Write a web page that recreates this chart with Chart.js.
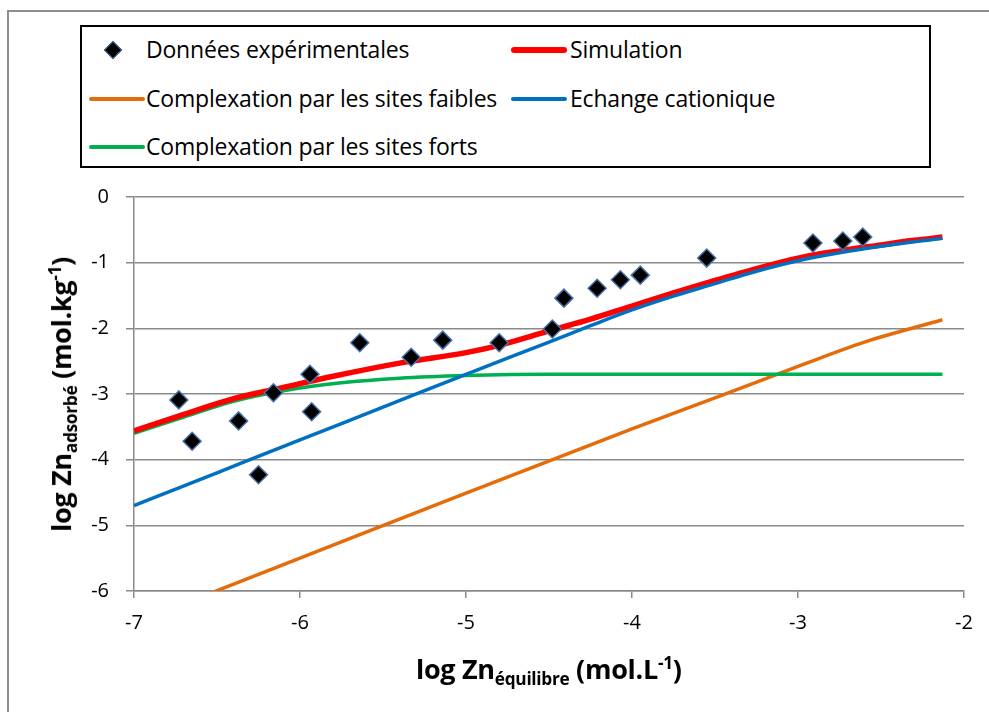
<!DOCTYPE html>
<html><head><meta charset="utf-8">
<script src="https://cdn.jsdelivr.net/npm/chart.js@4"></script>
<style>
html,body{margin:0;padding:0;background:#fff;}
#wrap{position:relative;width:989px;height:712px;overflow:hidden;font-family:"Open Sans",sans-serif;}
#frame{position:absolute;left:7px;top:10px;width:1000px;height:720px;border:2px solid #8e8e8e;box-sizing:border-box;}
canvas{position:absolute;left:0;top:0;}
#legend{position:absolute;left:80px;top:25px;width:851px;height:143px;border:2px solid #000;box-sizing:border-box;background:#fff;z-index:2;}
.lt{position:absolute;font-size:23px;color:#000;line-height:1;white-space:nowrap;transform:translateY(-54%);letter-spacing:-0.2px;}
.sw{position:absolute;border-radius:3px;transform:translateY(-50%);}
.dm{position:absolute;width:11px;height:11px;background:#000;border:1.5px solid #4a72aa;transform:translate(-50%,-50%) rotate(45deg);}
.title{position:absolute;font-weight:bold;font-size:27px;white-space:nowrap;color:#000;line-height:1;z-index:2;letter-spacing:-0.3px;}
.title sub{font-size:64%;vertical-align:-0.35em;}
.title sup{font-size:64%;vertical-align:0.55em;}
</style></head>
<body>
<div id="wrap">
<div id="frame"></div>
<canvas id="c" width="989" height="712"></canvas>
<div id="legend"></div>
<div class="title" id="xt">log Zn<sub>équilibre</sub> (mol.L<sup>-1</sup>)</div>
<div class="title" id="yt">log Zn<sub>adsorbé</sub> (mol.kg<sup>-1</sup>)</div>
</div>
<script>
// ---- data ----
const expX = [-6.73,-6.65,-6.37,-6.25,-6.16,-5.94,-5.93,-5.64,-5.33,-5.14,-4.80,-4.48,-4.41,-4.21,-4.07,-3.95,-3.55,-2.91,-2.73,-2.61];
const expY = [-3.09,-3.72,-3.41,-4.23,-2.98,-2.70,-3.27,-2.22,-2.44,-2.18,-2.22,-2.01,-1.54,-1.39,-1.26,-1.19,-0.93,-0.70,-0.67,-0.61];

const simX = [-7,-6.7,-6.4,-6.1,-5.8,-5.4,-5.0,-4.8,-4.5,-4.25,-4.0,-3.75,-3.5,-3.25,-3.0,-2.75,-2.5,-2.3,-2.13];
const simY = [-3.56,-3.31,-3.07,-2.90,-2.73,-2.53,-2.37,-2.26,-2.04,-1.86,-1.66,-1.46,-1.27,-1.09,-0.93,-0.82,-0.73,-0.66,-0.61];

const faibX = [-7,-6,-5,-4,-3.5,-3,-2.6,-2.13];
const faibY = [-6.49,-5.50,-4.51,-3.53,-3.06,-2.58,-2.21,-1.87];

const echX = [-7,-6.5,-6,-5.5,-5,-4.5,-4.25,-4,-3.75,-3.5,-3.25,-3,-2.75,-2.5,-2.3,-2.13];
const echY = [-4.70,-4.20,-3.70,-3.20,-2.70,-2.21,-1.96,-1.72,-1.51,-1.32,-1.13,-0.97,-0.85,-0.75,-0.68,-0.63];

const fortX = [-7,-6.7,-6.4,-6.1,-5.75,-5.4,-5.0,-4.5,-4.0,-3.0,-2.13];
const fortY = [-3.60,-3.35,-3.11,-2.95,-2.83,-2.76,-2.72,-2.70,-2.70,-2.70,-2.70];

const xTicks = [-7,-6,-5,-4,-3,-2];
const yTicks = [-6,-5,-4,-3,-2,-1,0];

const names = ["Données expérimentales","Simulation","Complexation par les sites faibles","Echange cationique","Complexation par les sites forts"];
const colors = ["#000000","#ff0000","#e46c0a","#0070c0","#00b050"];

// ---- build ----
const pts = (xs, ys) => xs.map((x, i) => ({x, y: ys[i]}));
const line = (lbl, col, xs, ys, w) => ({
  label: lbl, data: pts(xs, ys), showLine: true, borderColor: col, backgroundColor: col,
  borderWidth: w, pointRadius: 0, cubicInterpolationMode: 'monotone', fill: false
});
const datasets = [
  {label: names[0], data: pts(expX, expY), pointStyle: 'rectRot', pointRadius: 9,
   backgroundColor: '#000', borderColor: '#4a72aa', borderWidth: 1.5, showLine: false},
  line(names[3], colors[3], echX, echY, 3.5),
  line(names[1], colors[1], simX, simY, 5.5),
  line(names[4], colors[4], fortX, fortY, 3.5),
  line(names[2], colors[2], faibX, faibY, 3.5)
];
const gridCol = '#8a8a8a';
const tickFont = {family: 'Open Sans', size: 20};
new Chart(document.getElementById('c'), {
  type: 'scatter',
  data: {datasets},
  options: {
    responsive: false, animation: false, events: [],
    layout: {padding: {left: 134 - 60, right: 989 - 964, top: 197, bottom: 712 - 591 - 60}},
    plugins: {legend: {display: false}, tooltip: {enabled: false}},
    scales: {
      x: {type: 'linear', min: xTicks[0], max: xTicks[xTicks.length - 1],
          afterBuildTicks: s => { s.ticks = xTicks.map(v => ({value: v})); },
          ticks: {font: tickFont, color: '#000', padding: 13, maxRotation: 0},
          grid: {drawOnChartArea: false, drawTicks: true, tickLength: 7, color: gridCol, lineWidth: 1.5},
          border: {color: gridCol, width: 1.5},
          afterFit: s => { s.height = 60; }},
      y: {type: 'linear', min: yTicks[0], max: yTicks[yTicks.length - 1],
          afterBuildTicks: s => { s.ticks = yTicks.map(v => ({value: v})); },
          ticks: {font: tickFont, color: '#000', padding: 17},
          grid: {color: gridCol, lineWidth: 1.5, tickLength: 8},
          border: {color: gridCol, width: 1.5},
          afterFit: s => { s.width = 60; }}
    }
  }
});

// ---- legend (HTML) ----
const lg = document.getElementById('legend');
const legendItems = [
  {i: 0, row: 0, col: 0}, {i: 1, row: 0, col: 1},
  {i: 2, row: 1, col: 0}, {i: 3, row: 1, col: 1},
  {i: 4, row: 2, col: 0}
];
const rowY = [23, 72, 120];
const colSw = [7, 429], colTx = [64, 488];
legendItems.forEach(it => {
  const y = rowY[it.row];
  if (it.i === 0) {
    const d = document.createElement('div'); d.className = 'dm';
    d.style.left = '31px'; d.style.top = y + 'px'; lg.appendChild(d);
  } else {
    const s = document.createElement('div'); s.className = 'sw';
    s.style.left = colSw[it.col] + 'px'; s.style.top = y + 'px';
    s.style.width = '56px'; s.style.height = (it.i === 1 ? 6 : 4) + 'px';
    s.style.background = colors[it.i]; lg.appendChild(s);
  }
  const t = document.createElement('div'); t.className = 'lt';
  t.textContent = names[it.i];
  t.style.left = colTx[it.col] + 'px'; t.style.top = y + 'px'; lg.appendChild(t);
});

// ---- axis titles ----
const xt = document.getElementById('xt');
xt.style.left = (549 - xt.offsetWidth / 2) + 'px';
xt.style.top = (670 - xt.offsetHeight / 2) + 'px';
const yt = document.getElementById('yt');
yt.style.left = (62 - yt.offsetWidth / 2) + 'px';
yt.style.top = (394 - yt.offsetHeight / 2) + 'px';
yt.style.transform = 'rotate(-90deg)';
</script>
</body></html>
